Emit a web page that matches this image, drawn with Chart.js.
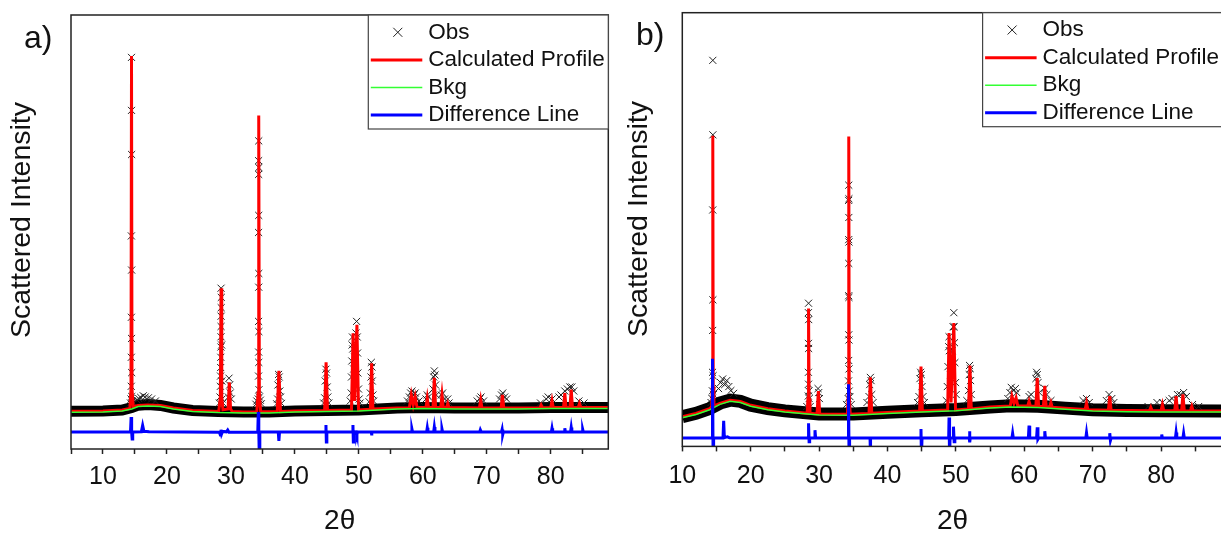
<!DOCTYPE html>
<html>
<head>
<meta charset="utf-8">
<script src="https://cdn.jsdelivr.net/npm/chart.js@4.4.0/dist/chart.umd.min.js"></script>
<style>
  html, body { margin: 0; padding: 0; background: #fff; overflow: hidden; }
  #wrap { position: relative; width: 1221px; height: 535px; overflow: hidden; }
  #chartA { position: absolute; left: 0; top: 0; }
  #chartB { position: absolute; left: 620px; top: 0; }
</style>
</head>
<body>
<div id="wrap">
  <canvas id="chartA" width="620" height="535"></canvas>
  <canvas id="chartB" width="610" height="535"></canvas>
</div>
<script>
// values, [2theta, intensity]
const legendLabels = ["Obs", "Calculated Profile", "Bkg", "Difference Line"];

// ---- panel a ----
const bkgA = [[5,917],[10,925],[13,950],[14.5,1000],[15.5,1060],[17,1075],[19,1060],[21,1000],[24,940],[28,912],[32,900],[36,900],[40,925],[45,937],[50,950],[53,975],[56,1000],[60,1012],[65,1000],[70,1000],[75,1000],[80,1012],[85,1012],[89,1012]];

const bandA = [[5,945],[10,950],[13,975],[14.5,1035],[15.5,1095],[17,1110],[19,1090],[21,1025],[24,965],[28,937],[32,925],[36,925],[40,950],[45,960],[50,975],[53,1000],[56,1025],[60,1037],[65,1025],[70,1025],[75,1025],[80,1037],[85,1037],[89,1037]];

const calcA = [[5,942],[10,950],[13,975],
  [14.2,1010],[14.38,1500],[14.46,9825],[14.54,1500],[14.72,1060],
  [15.5,1085],[17,1100],[19,1085],[21,1025],[24,965],
  [28.1,937],[28.35,1300],[28.46,4020],[28.57,1300],[28.75,980],
  [29.55,1000],[29.75,1670],[29.95,1000],[30.2,935],[32,925],
  [34.05,930],[34.25,1400],[34.35,8335],[34.45,1400],[34.65,930],
  [37.25,935],[37.5,1952],[37.75,935],[40,950],
  [44.65,960],[44.88,2165],[45.1,962],
  [48.85,975],[49.1,2892],[49.35,1200],[49.7,3105],[49.95,975],
  [51.8,995],[52.0,2140],[52.2,997],[56,1025],
  [57.9,1030],[58.2,1353],[58.5,1100],[58.8,1310],[59.1,1035],
  [60.5,1037],[60.7,1268],[60.9,1037],[61.6,1037],[61.8,1780],[62.0,1037],
  [62.8,1035],[63.0,1353],[63.2,1035],[63.7,1035],[63.9,1140],[64.1,1035],
  [68.85,1025],[69.05,1225],[69.25,1025],[72.25,1025],[72.45,1353],[72.65,1025],
  [78.3,1030],[78.5,1100],[78.7,1030],[80.0,1035],[80.2,1208],[80.4,1037],
  [82.0,1037],[82.2,1395],[82.4,1037],[83.0,1037],[83.2,1483],[83.4,1037],
  [84.3,1037],[84.5,1140],[84.7,1037],[89,1037]];

const obsA = [[14.46,9790],[14.46,8465],[14.48,7362],[14.44,5327],[14.48,4473],[14.44,3293],[14.47,2763],[14.43,2293],[14.49,1910],[14.42,1568],[14.5,1310],[14.38,1250],[14.56,1200],[14.3,1150],[14.65,1180],
  [15.3,1230],[15.6,1260],[15.9,1290],[16.3,1330],[16.6,1300],[17.1,1280],[17.6,1250],[18.2,1200],
  [28.3,1300],[28.36,1568],[28.38,1823],[28.4,2037],[28.42,2293],[28.44,2550],[28.45,2805],[28.46,3063],[28.47,3320],[28.48,3533],[28.5,3790],[28.46,4020],[28.55,2600],[28.58,1700],[28.62,1250],[28.2,1150],[28.75,1150],
  [29.7,1770],[29.8,1600],[29.9,1400],[29.6,1300],[30.05,1250],
  [34.35,7703],[34.33,7208],[34.36,7037],[34.34,6865],[34.35,5840],[34.33,5413],[34.36,4388],[34.35,4045],[34.33,3190],[34.37,2935],[34.34,2423],[34.36,2165],[34.32,1823],[34.39,1483],[34.28,1250],[34.45,1300],[34.05,1200],[34.6,1220],[33.9,1120],[34.75,1130],
  [37.35,1600],[37.45,1865],[37.55,1800],[37.65,1450],[37.3,1250],[37.75,1300],[37.15,1130],[37.9,1140],
  [44.75,1700],[44.85,1995],[44.95,1900],[45.05,1550],[44.65,1280],[45.15,1300],[44.5,1150],[45.3,1150],
  [48.9,2200],[48.95,2600],[49.0,2800],[49.05,2500],[48.85,1800],[48.8,1400],[49.2,2000],[49.35,2300],[49.55,2900],[49.65,3190],[49.75,2800],[49.8,2400],[49.85,1900],[49.95,1500],[50.05,1250],[48.65,1200],[50.2,1150],
  [51.9,1800],[51.95,2165],[52.05,2050],[52.1,1700],[51.8,1400],[52.2,1350],[52.3,1200],[51.6,1180],
  [57.9,1300],[58.1,1400],[58.3,1450],[58.6,1350],[58.8,1400],[59.0,1300],[57.6,1200],[59.4,1200],
  [60.5,1250],[60.7,1350],[60.9,1300],
  [61.6,1500],[61.7,1800],[61.8,1952],[61.9,1850],[62.0,1600],[62.1,1350],
  [62.9,1350],[63.1,1400],[63.4,1250],[63.9,1250],[64.1,1150],
  [68.5,1200],[68.9,1250],[69.1,1300],[69.5,1200],
  [72.0,1250],[72.3,1350],[72.5,1400],[72.8,1300],[73.1,1250],
  [78.4,1150],[79.3,1250],[79.6,1300],[80.2,1250],[81.3,1300],[81.6,1350],[82.2,1450],[82.6,1500],[83.0,1550],[83.3,1550],[83.6,1450],[84.4,1200],[85.2,1150]];

const diffA = [[5,425],[14.3,425],[14.4,800],[14.48,425],[14.56,250],[14.65,425],[16.0,430],[16.2,590],[16.4,440],[16.8,440],[17.2,430],
  [28.2,420],[28.35,350],[28.45,480],[28.55,380],[28.7,440],[29.3,430],[29.5,475],[29.7,420],
  [34.2,425],[34.28,925],[34.36,425],[34.42,-50],[34.52,425],[37.4,425],[37.5,200],[37.6,425],
  [44.8,425],[44.86,600],[44.92,175],[45.0,425],[49.0,425],[49.08,600],[49.14,175],[49.22,425],[49.6,430],[49.7,360],[49.8,425],
  [51.95,425],[52.0,340],[52.05,425],[58.2,425],[58.3,500],[58.4,425],[60.6,425],[60.7,530],[60.8,425],[61.7,425],[61.8,550],[61.9,425],
  [62.9,425],[63.0,500],[63.1,425],[68.9,425],[69.0,480],[69.15,425],[72.3,425],[72.4,490],[72.5,360],[72.6,425],
  [80.1,425],[80.2,520],[80.3,425],[82.1,425],[82.2,520],[82.3,425],[83.1,425],[83.2,540],[83.3,425],[84.9,425],[85.0,490],[85.1,425],[89,425]];

// ---- panel b ----
const bkgB = [[10,718],[12,800],[14,920],[15.5,1055],[17,1130],[18.5,1100],[20,1005],[22.5,918],[25,860],[30,785],[35,780],[40,825],[45,865],[50,895],[55,960],[58,990],[62,975],[66,930],[70,890],[75,870],[80,865],[89,860]];

const bandB = [[10,748],[12,830],[14,950],[15.5,1085],[17,1160],[18.5,1130],[20,1035],[22.5,948],[25,890],[30,815],[35,810],[40,855],[45,895],[50,925],[55,990],[58,1020],[62,1005],[66,960],[70,920],[75,900],[80,895],[89,890]];

const calcB = [[10,743],[12,825],[14,945],
  [14.3,1000],[14.4,1500],[14.46,7788],[14.52,1500],[14.62,1010],
  [15.5,1080],[17,1155],[18.5,1125],[20,1030],[22.5,943],[25,885],
  [28.25,830],[28.38,1200],[28.46,3455],[28.54,1200],[28.67,830],
  [29.7,815],[29.9,1390],[30.1,812],
  [34.15,805],[34.27,1300],[34.34,7770],[34.41,1300],[34.55,805],
  [37.3,825],[37.5,1730],[37.7,830],[40,850],
  [44.7,885],[44.9,2005],[45.1,890],
  [48.8,910],[49.0,2840],[49.3,1100],[49.7,3095],[49.95,915],
  [51.85,935],[52.06,2030],[52.25,940],[55,985],
  [57.95,1012],[58.2,1263],[58.5,1080],[58.8,1218],[59.05,1015],
  [60.5,1010],[60.7,1133],[60.9,1010],[61.7,1005],[61.9,1713],[62.1,1000],
  [62.8,998],[63.0,1518],[63.2,995],[63.7,985],[63.9,1100],[64.1,980],[66,955],
  [68.9,925],[69.1,1090],[69.3,922],[72.3,905],[72.5,1263],[72.7,905],
  [78.3,895],[78.5,980],[78.7,895],[80.0,892],[80.2,1048],[80.4,892],
  [82.0,892],[82.2,1263],[82.4,892],[83.0,892],[83.2,1305],[83.4,892],
  [84.3,890],[84.5,1005],[84.7,890],[89,885]];

const obsB = [[14.46,9680],[14.47,7813],[14.45,5928],[14.47,3675],[14.44,2908],[14.42,1858],[14.5,1773],[14.4,1393],[14.55,1300],[14.35,1200],[14.2,1100],
  [15.3,1450],[15.6,1600],[15.9,1690],[16.2,1550],[16.5,1650],[16.8,1500],[17.1,1400],[17.5,1330],
  [28.46,3590],[28.44,3353],[28.48,3180],[28.45,2583],[28.47,2455],[28.44,1858],[28.46,1560],[28.5,1388],[28.42,1263],[28.55,1200],[28.2,1000],[28.7,1000],
  [29.85,1450],[29.95,1350],[30.05,1200],
  [34.34,6550],[34.36,6210],[34.32,6168],[34.35,5740],[34.33,5185],[34.37,5125],[34.34,4588],[34.33,3778],[34.36,3735],[34.34,2798],[34.37,2668],[34.33,2155],[34.38,1943],[34.31,1643],[34.4,1388],[34.25,1200],[34.5,1250],[34.0,1050],[34.7,1050],
  [37.4,1550],[37.5,1730],[37.6,1650],[37.3,1250],[37.7,1300],[37.0,1100],[37.9,1100],
  [44.75,1700],[44.85,1858],[44.95,1800],[45.05,1500],[44.6,1250],[45.2,1250],[44.4,1100],[45.4,1100],
  [48.85,2000],[48.95,2500],[49.0,2750],[49.05,2400],[48.75,1500],[49.2,1800],[49.45,2400],[49.6,3000],[49.7,3353],[49.75,3000],[49.8,2600],[49.85,2100],[49.95,1600],[50.05,1300],[48.6,1150],
  [51.95,1800],[52.0,2030],[52.1,1950],[52.15,1650],[51.85,1400],[52.25,1300],[51.6,1150],
  [57.9,1350],[58.1,1480],[58.4,1400],[58.7,1450],[58.9,1350],[57.6,1200],
  [60.7,1250],[61.0,1300],[61.7,1700],[61.8,1858],[61.9,1800],[62.0,1600],[62.2,1350],
  [63.0,1450],[63.3,1300],[63.9,1150],
  [68.6,1150],[69.1,1200],[69.5,1100],
  [72.0,1150],[72.4,1300],[72.8,1200],[73.1,1100],
  [78.1,1000],[79.4,1100],[80.2,1100],[81.2,1150],[81.6,1200],[82.4,1300],[82.8,1300],[83.3,1350],[83.7,1250],[84.6,1050],[85.5,1000]];

const diffB = [[10,210],[14.35,210],[14.42,2200],[14.5,-300],[14.58,210],[15.95,210],[16.05,640],[16.15,220],[16.6,240],[16.9,215],
  [28.4,210],[28.46,580],[28.54,118],[28.62,210],[29.3,210],[29.4,408],[29.5,210],
  [34.25,210],[34.3,1560],[34.38,-300],[34.46,210],[37.45,210],[37.5,-300],[37.55,210],
  [44.85,210],[44.9,435],[44.97,-300],[45.05,210],[48.95,210],[49.0,725],[49.08,-300],[49.15,210],[49.6,210],[49.65,495],[49.75,118],[49.85,210],
  [51.95,210],[52.0,380],[52.05,100],[52.1,210],[58.2,210],[58.3,330],[58.4,210],[60.6,210],[60.7,520],[60.8,210],[61.8,210],[61.9,480],[62.0,180],[62.1,210],
  [62.9,210],[63.0,380],[63.1,210],[69.0,210],[69.1,340],[69.2,210],[72.4,210],[72.5,330],[72.6,150],[72.7,210],
  [80.0,210],[80.1,300],[80.2,210],[82.1,210],[82.2,350],[82.3,210],[83.2,210],[83.3,330],[83.4,210],[89,210]];

const FONT = '"Liberation Sans", Arial, sans-serif';
const toXY = (arr) => arr.map((p) => ({ x: p[0], y: p[1] }));

// frame, inner legend, panel letter, y title
const decorPlugin = {
  id: "decor",
  afterDatasetsDraw(chart, args, opts) {
    const ctx = chart.ctx;
    const a = chart.chartArea;
    ctx.save();
    ctx.strokeStyle = "#222";
    ctx.lineWidth = 1.5;
    ctx.strokeRect(a.left, a.top, a.right - a.left, a.bottom - a.top);

    const lw = 240, lh = 114;
    const lx = a.right - lw, ly = a.top;
    ctx.fillStyle = "#fff";
    ctx.fillRect(lx, ly, lw, lh);
    ctx.strokeStyle = "#444";
    ctx.lineWidth = 1.2;
    ctx.strokeRect(lx, ly, lw, lh);

    const rows = [17.3, 45, 72.5, 100];
    const colors = [null, "#ff0000", "#33ff33", "#0000ff"];
    const widths = [1, 3, 1.5, 3];
    ctx.font = "22.5px " + FONT;
    ctx.textBaseline = "middle";
    ctx.textAlign = "left";
    legendLabels.forEach((label, i) => {
      const y = ly + rows[i];
      if (i === 0) {
        ctx.strokeStyle = "#222";
        ctx.lineWidth = 1;
        ctx.beginPath();
        ctx.moveTo(lx + 25, y - 4.5); ctx.lineTo(lx + 34, y + 4.5);
        ctx.moveTo(lx + 34, y - 4.5); ctx.lineTo(lx + 25, y + 4.5);
        ctx.stroke();
      } else {
        ctx.strokeStyle = colors[i];
        ctx.lineWidth = widths[i];
        ctx.beginPath();
        ctx.moveTo(lx + 2.5, y); ctx.lineTo(lx + 54, y);
        ctx.stroke();
      }
      ctx.fillStyle = "#111";
      ctx.fillText(label, lx + 60, y);
    });

    ctx.font = "32px " + FONT;
    ctx.textBaseline = "alphabetic";
    ctx.fillText(opts.letter, opts.letterX, opts.letterY);

    ctx.translate(opts.titleX, opts.titleY);
    ctx.rotate(-Math.PI / 2);
    ctx.textAlign = "center";
    ctx.textBaseline = "middle";
    ctx.font = "28.5px " + FONT;
    ctx.fillText("Scattered Intensity", 0, 0);
    ctx.restore();
  },
};

function makeChart(id, d, cfg) {
  return new Chart(document.getElementById(id), {
    type: "line",
    data: {
      datasets: [
        { label: "Difference Line", data: toXY(d.diff), borderColor: "#0000ff", borderWidth: 3, pointRadius: 0, clip: 0 },
        { label: "Bkg", data: toXY(d.bkg), borderColor: "#33ff33", borderWidth: 1.5, pointRadius: 0 },
        { label: "Calculated Profile", data: toXY(d.calc), borderColor: "#ff0000", borderWidth: 3, pointRadius: 0 },
        { label: "Obs", data: toXY(d.obs), showLine: false, pointStyle: "crossRot", pointRadius: 5, borderColor: "#222", borderWidth: 1 },
        { label: "obs band", data: toXY(d.band), borderColor: "#000", borderWidth: cfg.band, pointRadius: 0 },
      ],
    },
    options: {
      responsive: false,
      animation: false,
      layout: { padding: cfg.padding },
      plugins: {
        legend: { display: false },
        tooltip: { enabled: false },
        decor: cfg.decor,
      },
      scales: {
        x: {
          type: "linear",
          min: cfg.xmin,
          max: 89,
          border: { display: false },
          grid: { drawOnChartArea: false, tickLength: 5, tickColor: "#222", tickWidth: 1.5 },
          ticks: {
            stepSize: 5,
            includeBounds: false,
            autoSkip: false,
            maxRotation: 0,
            padding: cfg.tickPad,
            color: "#111",
            font: { size: 25, family: FONT },
            callback: (v) => (v % 10 === 0 ? v : ""),
          },
          title: { display: true, text: "2θ", color: "#111", font: { size: 28, family: FONT, lineHeight: 1 }, padding: { top: 7, bottom: 0 } },
        },
        y: { display: false, min: 0, max: cfg.ymax },
      },
    },
    plugins: [decorPlugin],
  });
}

makeChart("chartA", { bkg: bkgA, band: bandA, calc: calcA, obs: obsA, diff: diffA }, {
  xmin: 5, ymax: 10850, band: 11, tickPad: 8,
  padding: { left: 71, right: 11.7, top: 15, bottom: 0 },
  decor: { letter: "a)", letterX: 24, letterY: 48, titleX: 22, titleY: 220 },
});

makeChart("chartB", { bkg: bkgB, band: bandB, calc: calcB, obs: obsB, diff: diffB }, {
  xmin: 10, ymax: 10875, band: 13, tickPad: 9.3,
  padding: { left: 62.3, right: 7.4, top: 12.7, bottom: 0 },
  decor: { letter: "b)", letterX: 16, letterY: 45, titleX: 19, titleY: 219 },
});
</script>
</body>
</html>
